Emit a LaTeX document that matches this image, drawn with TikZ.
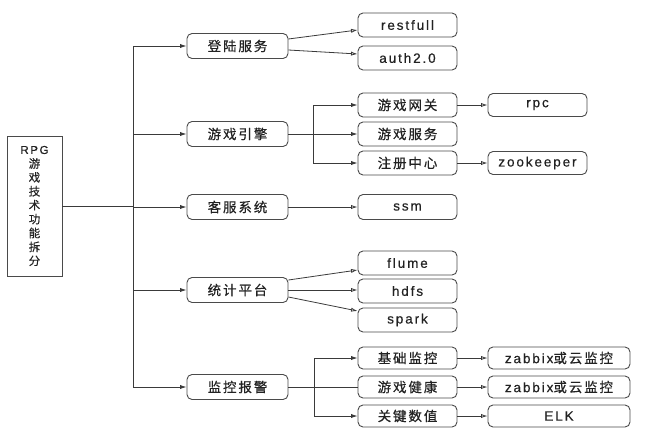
\documentclass[tikz,border=0pt]{standalone}
\usepackage{fontspec}
\setmainfont{Liberation Sans}[LetterSpace=14,FakeBold=0.5]
\newfontfamily\cjk{Noto Sans CJK SC}[LetterSpace=14,FakeBold=0.5]
\usetikzlibrary{arrows.meta}
\definecolor{linecol}{HTML}{3A3A3A}
\definecolor{boxcol}{HTML}{4A4A4A}
\definecolor{textcol}{HTML}{222222}
\tikzset{
  box/.style={draw=boxcol, line width=0.9pt, rounded corners=5pt, inner sep=0pt,
    minimum height=24pt, text=textcol, font=\fontsize{13.5}{15}\selectfont},
  lone/.style={box, minimum width=101pt, minimum height=25pt},
  ltwo/.style={box, minimum width=99pt},
  lmon/.style={box, minimum width=99pt, minimum height=22pt},
  lthree/.style={box, minimum width=142pt, minimum height=22pt},
  lrpc/.style={box, minimum width=99pt, minimum height=23pt},
  conn/.style={draw=linecol, line width=0.8pt},
  arrF/.style={conn, -{Latex[length=6.5pt,width=4.2pt]}},
  arrO/.style={conn, -{Latex[open,length=6.5pt,width=4.2pt,fill=gray!25]}}
}
\begin{document}
\begin{tikzpicture}[x=1pt,y=-1pt]
\useasboundingbox (0,0) rectangle (645,447);
\node[draw=boxcol, line width=0.9pt, minimum width=55pt, minimum height=140pt, inner sep=0pt,
  align=center, text=textcol, font=\fontsize{11.5}{13.9}\selectfont] (root) at (34.5,206)
  {RPG\\\cjk 游\\\cjk 戏\\\cjk 技\\\cjk 术\\\cjk 功\\\cjk 能\\\cjk 拆\\\cjk 分};
% level 1
\node[lone] (La) at (237.5,46) {\cjk 登陆服务};
\node[lone] (Lb) at (237.5,134) {\cjk 游戏引擎};
\node[lone] (Lc) at (237.5,207) {\cjk 客服系统};
\node[lone] (Ld) at (237.5,290) {\cjk 统计平台};
\node[lone] (Le) at (237.5,387) {\cjk 监控报警};
% level 2
\node[ltwo] (rest) at (407.5,25) {restfull};
\node[ltwo] (auth) at (407.5,58) {auth2.0};
\node[ltwo] (gw) at (407.5,105) {\cjk 游戏网关};
\node[ltwo] (svc) at (407.5,134) {\cjk 游戏服务};
\node[ltwo] (reg) at (407.5,163) {\cjk 注册中心};
\node[ltwo, minimum height=25pt] (ssm) at (407.5,207) {ssm};
\node[ltwo] (flume) at (407.5,263) {flume};
\node[ltwo] (hdfs) at (407.5,291) {hdfs};
\node[ltwo] (spark) at (407.5,320) {spark};
\node[lmon] (base) at (407.5,358) {\cjk 基础监控};
\node[lmon] (health) at (407.5,387) {\cjk 游戏健康};
\node[lmon] (key) at (407.5,416) {\cjk 关键数值};
% level 3
\node[lrpc] (rpc) at (537.5,105) {rpc};
\node[lrpc] (zk) at (537.5,163) {zookeeper};
\node[lthree] (zb1) at (559,358) {zabbix{\cjk 或云监控}};
\node[lthree] (zb2) at (559,387) {zabbix{\cjk 或云监控}};
\node[lthree] (elk) at (559,416) {ELK};
% trunk
\coordinate (tx) at (133,0);
\draw[conn] (tx |- La) -- (tx |- Le);
\draw[conn] (root.east) -- (tx |- root.east);
\foreach \n in {La,Lb,Lc,Ld,Le} \draw[arrF] (tx |- \n) -- (\n.west);
% login
\draw[arrO] ([yshift=7pt]La.east) -- ([yshift=-5pt]rest.west);
\draw[arrO] ([yshift=-4pt]La.east) -- ([yshift=4pt]auth.west);
% engine
\coordinate (bx) at (313,0);
\draw[conn] (Lb.east) -- (bx |- Lb);
\draw[conn] (bx |- gw) -- (bx |- reg);
\draw[arrF] (bx |- gw) -- (gw.west);
\draw[arrF] (Lb.east) -- (svc.west);
\draw[arrF] (bx |- reg) -- (reg.west);
\draw[arrO] (gw.east) -- (rpc.west);
\draw[arrO] (reg.east) -- (zk.west);
% service
\draw[arrO] (Lc.east) -- (ssm.west);
% stats
\draw[arrO] ([yshift=10pt]Ld.east) -- ([yshift=-7pt]flume.west);
\draw[arrO] (Ld.east) -- (hdfs.west |- Ld.east);
\draw[arrO] ([yshift=-7pt]Ld.east) -- ([yshift=9pt]spark.west);
% monitoring
\coordinate (mx) at (314,0);
\draw[conn] (Le.east) -- (health.west);
\draw[conn] (mx |- base) -- (mx |- key);
\draw[arrF] (mx |- base) -- (base.west);
\draw[arrF] (mx |- key) -- (key.west);
\draw[arrO] (base.east) -- (zb1.west);
\draw[arrO] (health.east) -- (zb2.west);
\draw[arrO] (key.east) -- (elk.west);
\end{tikzpicture}
\end{document}
